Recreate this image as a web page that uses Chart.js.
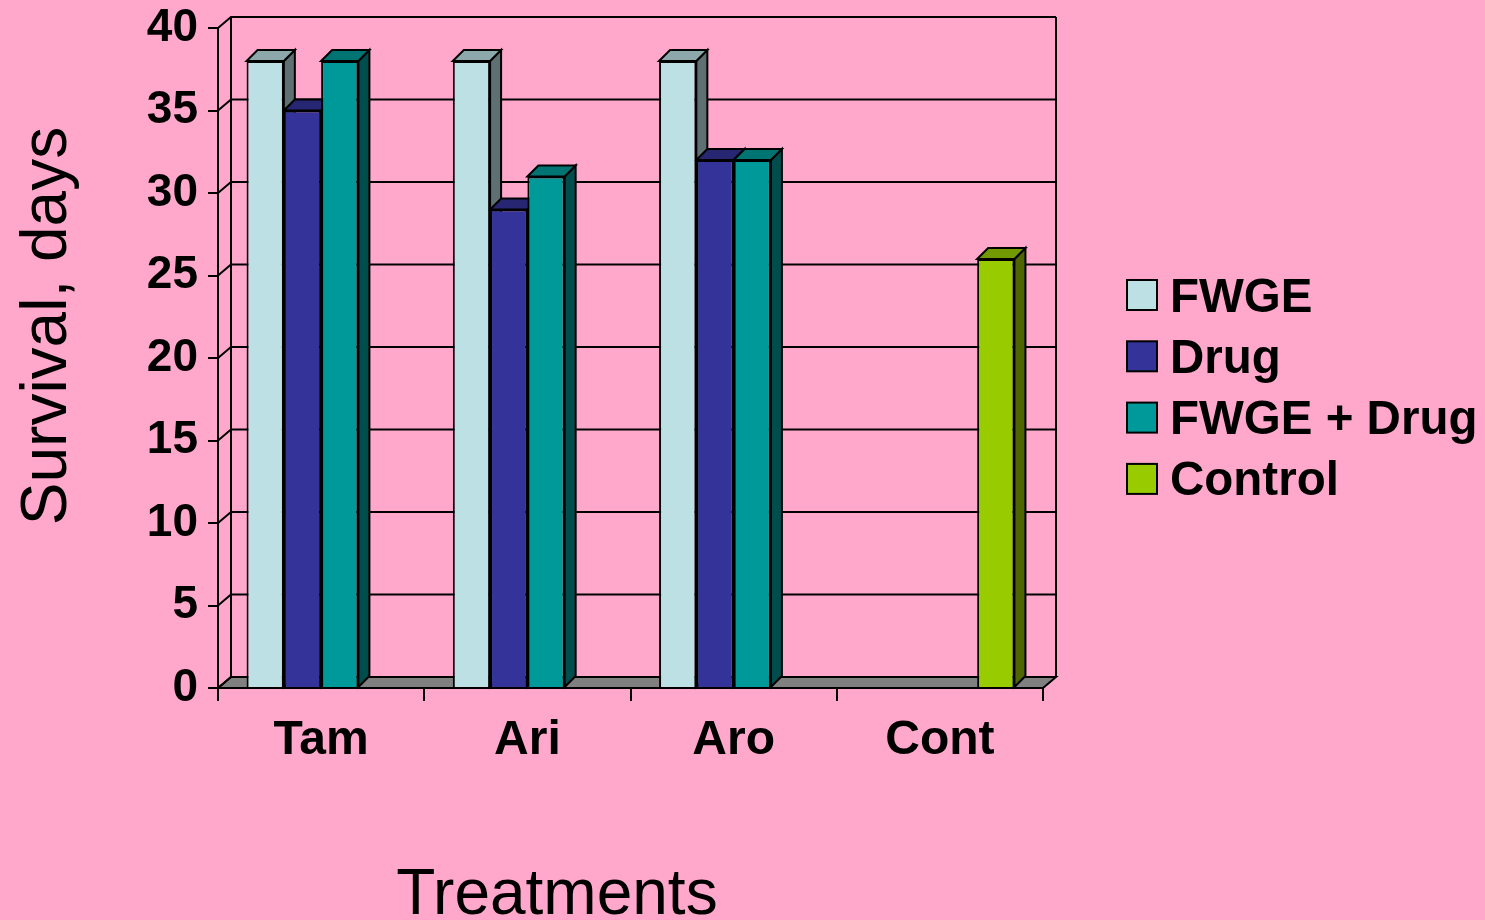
<!DOCTYPE html>
<html>
<head>
<meta charset="utf-8">
<script src="https://cdn.jsdelivr.net/npm/chart.js@4.4.1/dist/chart.umd.min.js"></script>
<style>
  html, body { margin: 0; padding: 0; background: #FFA8CC; }
  #wrap { width: 1485px; height: 920px; position: relative; }
</style>
</head>
<body>
<div id="wrap"><canvas id="grafica"></canvas></div>
<script>
// data
const categorias = ['Tam', 'Ari', 'Aro', 'Cont'];
const nombres = ['FWGE', 'Drug', 'FWGE + Drug', 'Control'];
const fwge = [38, 38, 38, null];
const drug = [35, 29, 32, null];
const fwgeDrug = [38, 31, 32, null];
const control = [null, null, null, 26];
const yMin = 0, yMax = 40, yStep = 5;

// front, top and side colour of each series
const colorFrente = ['#BCE0E4', '#333399', '#009999', '#99CC00'];
const colorTapa = ['#8DA8AB', '#262673', '#007373', '#739900'];
const colorLado = ['#5E7072', '#1A1A4D', '#004D4D', '#4D6600'];

const FUENTE = "'Liberation Sans', Arial, sans-serif";
const ROSA = '#FFA8CC';
const DX = 13, DY = -11;   // depth of the walls
const BX = 11, BY = -11;   // depth of the bars

function poligono(ctx, pts, relleno) {
  ctx.beginPath();
  ctx.moveTo(pts[0][0], pts[0][1]);
  for (let i = 1; i < pts.length; i++) ctx.lineTo(pts[i][0], pts[i][1]);
  ctx.closePath();
  ctx.fillStyle = relleno;
  ctx.fill();
  ctx.stroke();
}

const escena3d = {
  id: 'escena3d',
  beforeDraw(chart) {
    const { ctx, chartArea: a, scales: { y } } = chart;
    ctx.save();
    ctx.fillStyle = ROSA;
    ctx.fillRect(0, 0, chart.width, chart.height);
    ctx.lineWidth = 2;
    ctx.strokeStyle = '#000';
    const y0 = y.getPixelForValue(yMin);
    const yTop = y.getPixelForValue(yMax);
    // floor
    poligono(ctx, [[a.left, y0], [a.right, y0], [a.right + DX, y0 + DY], [a.left + DX, y0 + DY]], '#808080');
    // left wall + back wall grid
    y.ticks.forEach(t => {
      const py = y.getPixelForValue(t.value);
      ctx.beginPath();
      ctx.moveTo(a.left, py);
      ctx.lineTo(a.left + DX, py + DY);
      ctx.lineTo(a.right + DX, py + DY);
      ctx.stroke();
    });
    ctx.beginPath();
    ctx.moveTo(a.left + DX, yTop + DY);
    ctx.lineTo(a.left + DX, y0 + DY);
    ctx.moveTo(a.right + DX, yTop + DY);
    ctx.lineTo(a.right + DX, y0 + DY);
    ctx.stroke();
    ctx.restore();
  },
  beforeDatasetsDraw(chart) {
    const { ctx } = chart;
    const barras = [];
    chart.data.datasets.forEach((ds, i) => {
      chart.getDatasetMeta(i).data.forEach((bar, j) => {
        if (ds.data[j] == null) return;
        barras.push({ bar, i });
      });
    });
    // left to right so the next bar hides the side face
    barras.sort((p, q) => p.bar.x - q.bar.x);
    ctx.save();
    ctx.lineWidth = 2;
    ctx.strokeStyle = '#000';
    barras.forEach(({ bar, i }) => {
      const { x, y, base, width } = bar.getProps(['x', 'y', 'base', 'width'], true);
      const l = x - width / 2, r = x + width / 2;
      poligono(ctx, [[r, y], [r + BX, y + BY], [r + BX, base + BY], [r, base]], colorLado[i]);
      poligono(ctx, [[l, y], [l + BX, y + BY], [r + BX, y + BY], [r, y]], colorTapa[i]);
    });
    ctx.restore();
  },
  afterDraw(chart) {
    const { ctx } = chart;
    ctx.save();
    ctx.fillStyle = '#000';
    ctx.textBaseline = 'alphabetic';
    // axis titles
    ctx.font = `64px ${FUENTE}`;
    ctx.textAlign = 'center';
    ctx.fillText('Treatments', 557, 914);
    ctx.save();
    ctx.translate(66, 326);
    ctx.rotate(-Math.PI / 2);
    ctx.fillText('Survival, days', 0, 0);
    ctx.restore();
    // legend
    ctx.font = `bold 47.5px ${FUENTE}`;
    ctx.textAlign = 'left';
    ctx.lineWidth = 2;
    ctx.strokeStyle = '#000';
    chart.data.datasets.forEach((ds, i) => {
      const cy = 295 + i * 61.3;
      ctx.fillStyle = ds.backgroundColor;
      ctx.fillRect(1127, cy - 15, 30, 30);
      ctx.strokeRect(1127, cy - 15, 30, 30);
      ctx.fillStyle = '#000';
      ctx.fillText(ds.label, 1170, cy + 16.5);
    });
    ctx.restore();
  }
};

const series = [fwge, drug, fwgeDrug, control];

new Chart(document.getElementById('grafica').getContext('2d'), {
  type: 'bar',
  data: {
    labels: categorias,
    datasets: series.map((datos, i) => ({
      label: nombres[i],
      data: datos,
      backgroundColor: colorFrente[i],
      borderColor: '#000',
      borderWidth: 2,
      categoryPercentage: 0.723,
      barPercentage: 1
    }))
  },
  options: {
    responsive: true,
    maintainAspectRatio: false,
    animation: false,
    events: [],
    layout: { padding: { top: 28, right: 442, bottom: 0, left: 0 } },
    plugins: {
      legend: { display: false },
      tooltip: { enabled: false }
    },
    scales: {
      x: {
        afterFit: s => { s.height = 232; },
        grid: { offset: true, drawOnChartArea: false, tickLength: 13, color: '#000', lineWidth: 2 },
        border: { display: true, color: '#000', width: 2 },
        ticks: { color: '#000', font: { family: FUENTE, size: 48, weight: 'bold', lineHeight: 1 }, padding: 16, maxRotation: 0 }
      },
      y: {
        min: yMin,
        max: yMax,
        afterFit: s => { s.width = 218; s.paddingTop = 0; s.paddingBottom = 0; },
        grid: { drawOnChartArea: false, tickLength: 10, color: '#000', lineWidth: 2 },
        border: { display: true, color: '#000', width: 2 },
        ticks: { stepSize: yStep, color: '#000', font: { family: FUENTE, size: 46, weight: 'bold', lineHeight: 1 }, padding: 10 }
      }
    }
  },
  plugins: [escena3d]
});
</script>
</body>
</html>
